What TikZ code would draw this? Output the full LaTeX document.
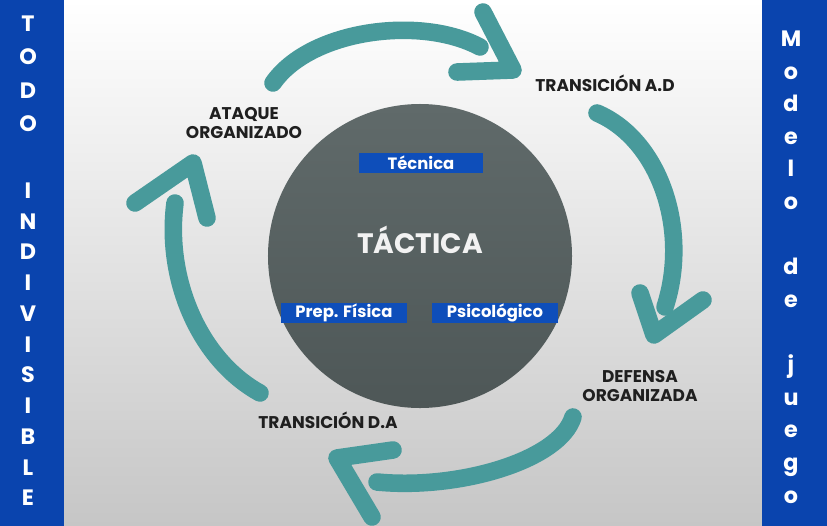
\documentclass[tikz,border=0pt]{standalone}
\usepackage{fontspec}
\setmainfont{Poppins}
\usepackage{tikz}

\definecolor{azul}{RGB}{10,68,174}
\definecolor{azulet}{RGB}{14,78,186}
\definecolor{verde}{RGB}{72,154,155}
\definecolor{grisA}{RGB}{96,106,106}
\definecolor{grisB}{RGB}{78,87,87}
\definecolor{fondo}{RGB}{198,198,198}

\begin{document}
\begin{tikzpicture}[x=0.03cm, y=-0.03cm]
 \tikzstyle{flecha}=[draw=verde, line width=15pt, line cap=round, line join=round]
 \tikzstyle{fase}=[font=\fontsize{14.5}{17}\selectfont\bfseries, text=black!88, align=center]
 \tikzstyle{etiq}=[fill=azulet, text=white, font=\fontsize{14}{16}\selectfont\bfseries, minimum height=0.6cm, inner sep=0pt]
 \tikzstyle{letraL}=[text=white, font=\fontsize{19}{21}\selectfont\bfseries, anchor=base]
 \tikzstyle{letraR}=[text=white, font=\fontsize{19}{21}\selectfont\bfseries, anchor=base]

 \useasboundingbox (0,0) rectangle (827,526);
 \shade[top color=white, bottom color=fondo] (64,0) rectangle (762,526);
 \fill[azul] (0,0) rectangle (64,526);
 \fill[azul] (762,0) rectangle (827,526);

 \foreach \l/\y [count=\i] in {T/23, O/56, D/90, O/123, I/190, N/221, D/251, I/282, V/313, I/344, S/374, I/405, B/436, L/467, E/497}
   \node[letraL] (izq\i) at (28,\y+8) {\l};
 \foreach \l/\y [count=\i] in {M/40, o/73, d/105, e/138, l/170, o/203, d/268, e/301, j/366, u/399, e/431, g/464, o/497}
   \node[letraR] (der\i) at (791,\y+6) {\l};

 \node[circle, minimum size=9.12cm, top color=grisA, bottom color=grisB] (nucleo) at (420,256) {};
 \node[text=white!90!gray, font=\fontsize{24}{28}\selectfont\bfseries] (tactica) at (420,240) {TÁCTICA};
 \node[etiq, minimum width=3.69cm] (tecnica) at (421,163) {Técnica};
 \node[etiq, minimum width=3.75cm] (fisica) at (344,313) {Prep. Física};
 \node[etiq, minimum width=3.78cm] (psico) at (495,313) {Psicológico};

 \node[fase] (ataque) at (244,123) {ATAQUE\\ORGANIZADO};
 \node[fase] (transAD) at (605,83) {TRANSICIÓN A.D};
 \node[fase] (defensa) at (640,386) {DEFENSA\\ORGANIZADA};
 \node[fase] (transDA) at (328,420) {TRANSICIÓN D.A};

 \coordinate (a1) at (273,83);  \coordinate (b1) at (480,47);
 \coordinate (p1) at (483,12);  \coordinate (t1) at (513,70);  \coordinate (q1) at (457,72);
 \draw[flecha] (a1) .. controls (310,30) and (420,15) .. (b1);
 \draw[flecha] (p1) -- (t1) -- (q1);

 \coordinate (a2) at (597,113); \coordinate (b2) at (665,307);
 \coordinate (p2) at (640,293); \coordinate (t2) at (654,335); \coordinate (q2) at (703,300);
 \draw[flecha] (a2) .. controls (660,140) and (690,230) .. (b2);
 \draw[flecha] (p2) -- (t2) -- (q2);

 \coordinate (a3) at (573,417); \coordinate (b3) at (377,482);
 \coordinate (p3) at (393,450); \coordinate (t3) at (337,458); \coordinate (q3) at (372,517);
 \draw[flecha] (a3) .. controls (560,460) and (460,490) .. (b3);
 \draw[flecha] (p3) -- (t3) -- (q3);

 \coordinate (a4) at (260,393); \coordinate (b4) at (175,203);
 \coordinate (p4) at (135,203); \coordinate (t4) at (193,163); \coordinate (q4) at (207,218);
 \draw[flecha] (a4) .. controls (200,360) and (165,280) .. (b4);
 \draw[flecha] (p4) -- (t4) -- (q4);
\end{tikzpicture}
\end{document}
